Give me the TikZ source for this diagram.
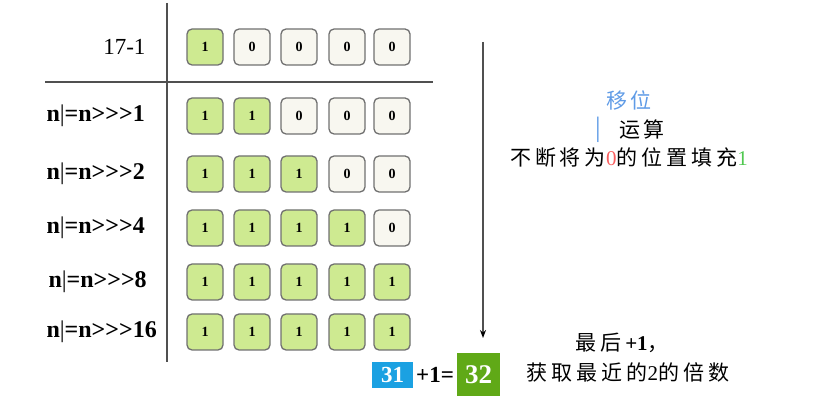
\documentclass[tikz,border=0pt]{standalone}
\usepackage{fontspec}
\setmainfont{Liberation Serif}[Ligatures=TeXOff]
\newfontfamily\cjk{Noto Sans CJK SC}[LetterSpace=19]
\usetikzlibrary{positioning,arrows.meta}

\definecolor{bitgreen}{RGB}{206,234,145}
\definecolor{bitwhite}{RGB}{248,247,240}
\definecolor{bitline}{RGB}{112,112,112}
\definecolor{rulegray}{RGB}{80,80,80}
\definecolor{boxblue}{RGB}{27,161,226}
\definecolor{boxgreen}{RGB}{96,169,23}
\definecolor{textblue}{RGB}{95,155,230}
\definecolor{zerored}{RGB}{250,95,95}
\definecolor{onegreen}{RGB}{80,200,80}

\begin{document}
\begin{tikzpicture}[x=1pt,y=-1pt,
    one/.style={rectangle, rounded corners=5pt, draw=bitline, line width=1.3pt, fill=bitgreen,
        minimum width=36pt, minimum height=36pt, font=\fontsize{14}{14}\selectfont\bfseries},
    zero/.style={one, fill=bitwhite},
    oplabel/.style={anchor=west, font=\fontsize{24}{24}\selectfont\bfseries},
    note/.style={font=\fontsize{21}{22}\selectfont}]
	\useasboundingbox (0,0) rectangle (817,403);
	\pgfmathsetmacro{\cone}{205}
	\pgfmathsetmacro{\ctwo}{252}
	\pgfmathsetmacro{\cthree}{299}
	\pgfmathsetmacro{\cfour}{347}
	\pgfmathsetmacro{\cfive}{392}

	%table rules
	\coordinate (vtop) at (167,3);
	\coordinate (vbot) at (167,362);
	\coordinate (hleft) at (45,82);
	\coordinate (hright) at (433,82);
	\draw[rulegray, line width=1.8pt] (vtop)--(vbot);
	\draw[rulegray, line width=1.8pt] (hleft)--(hright);

	%row labels
	\node[anchor=east, font=\fontsize{23}{23}\selectfont] (lzero) at (149,47) {17-1};
	\node[oplabel] (lone) at (43,116) {n{\mdseries|}=n>>>1};
	\node[oplabel] (ltwo) at (43,174) {n{\mdseries|}=n>>>2};
	\node[oplabel] (lfour) at (43,228) {n{\mdseries|}=n>>>4};
	\node[oplabel] (leight) at (45,282) {n{\mdseries|}=n>>>8};
	\node[oplabel] (lsixteen) at (43,332) {n{\mdseries|}=n>>>16};

	%17-1
	\node[one] (a1) at (\cone,47) {1};
	\node[zero] (a2) at (\ctwo,47) {0};
	\node[zero] (a3) at (\cthree,47) {0};
	\node[zero] (a4) at (\cfour,47) {0};
	\node[zero] (a5) at (\cfive,47) {0};

	%>>>1
	\node[one] (b1) at (\cone,116) {1};
	\node[one] (b2) at (\ctwo,116) {1};
	\node[zero] (b3) at (\cthree,116) {0};
	\node[zero] (b4) at (\cfour,116) {0};
	\node[zero] (b5) at (\cfive,116) {0};

	%>>>2
	\node[one] (c1) at (\cone,174) {1};
	\node[one] (c2) at (\ctwo,174) {1};
	\node[one] (c3) at (\cthree,174) {1};
	\node[zero] (c4) at (\cfour,174) {0};
	\node[zero] (c5) at (\cfive,174) {0};

	%>>>4
	\node[one] (d1) at (\cone,228) {1};
	\node[one] (d2) at (\ctwo,228) {1};
	\node[one] (d3) at (\cthree,228) {1};
	\node[one] (d4) at (\cfour,228) {1};
	\node[zero] (d5) at (\cfive,228) {0};

	%>>>8
	\node[one] (e1) at (\cone,282) {1};
	\node[one] (e2) at (\ctwo,282) {1};
	\node[one] (e3) at (\cthree,282) {1};
	\node[one] (e4) at (\cfour,282) {1};
	\node[one] (e5) at (\cfive,282) {1};

	%>>>16
	\node[one] (f1) at (\cone,332) {1};
	\node[one] (f2) at (\ctwo,332) {1};
	\node[one] (f3) at (\cthree,332) {1};
	\node[one] (f4) at (\cfour,332) {1};
	\node[one] (f5) at (\cfive,332) {1};

	%arrow down
	\coordinate (atop) at (483,42);
	\coordinate (abot) at (483,338);
	\draw[rulegray, line width=1.4pt, -{Stealth[length=8pt,width=6pt,black]}] (atop)--(abot);

	%result
	\node[fill=boxblue, text=white, inner sep=0pt, minimum width=41pt, minimum height=26pt,
	    font=\fontsize{23}{23}\selectfont\bfseries] (thirtyone) at (392.5,375) {31};
	\node[font=\fontsize{23}{23}\selectfont\bfseries, inner sep=0pt] (plusone) at (435,375) {+1=};
	\node[fill=boxgreen, text=white, inner sep=0pt, minimum width=43pt, minimum height=43pt,
	    font=\fontsize{27}{27}\selectfont\bfseries] (thirtytwo) at (478.5,374.5) {32};

	%notes
	\node[note, text=textblue] (shift) at (629,100) {\cjk 移位};
	\node[text=textblue, font=\fontsize{28}{28}\selectfont] (bar) at (598,130) {|};
	\node[note] (calc) at (642,130) {\cjk 运算};
	\node[note] (fill) at (629,158) {{\cjk 不断将为}{\color{zerored}0}{\cjk 的位置填充}{\color{onegreen}1}};
	\node[note] (last) at (622,343) {{\cjk 最后}\textbf{+1}{\cjk ，}};
	\node[note] (nearest) at (628,372) {{\cjk 获取最近的}2{\cjk 的倍数}};
\end{tikzpicture}
\end{document}
